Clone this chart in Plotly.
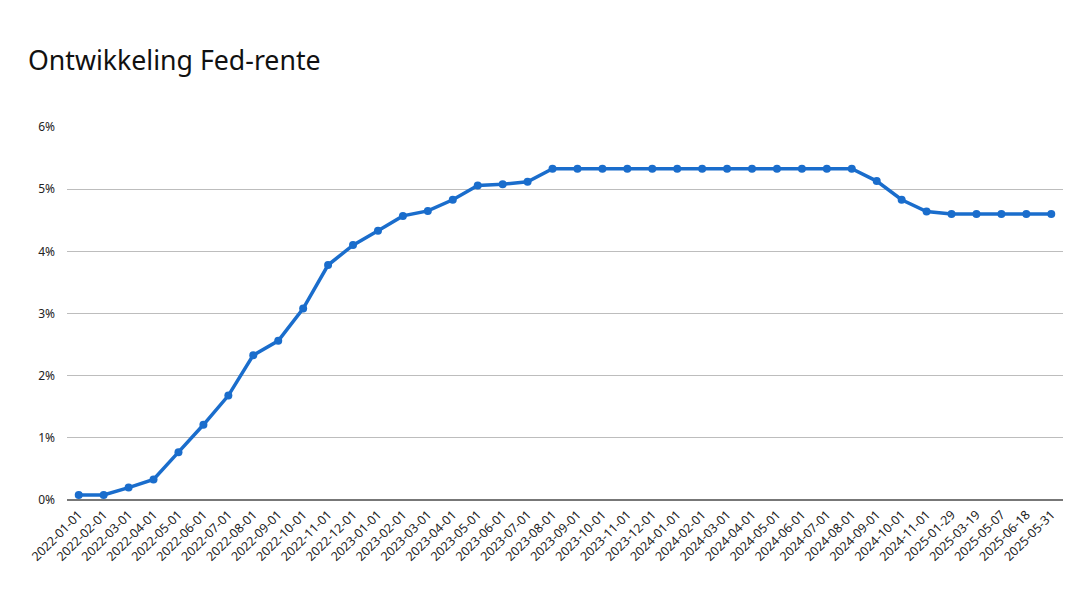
import plotly.graph_objects as go

# Datums (categorie-as, volgorde zoals in de bron)
dates = [
    "2022-01-01", "2022-02-01", "2022-03-01", "2022-04-01", "2022-05-01", "2022-06-01",
    "2022-07-01", "2022-08-01", "2022-09-01", "2022-10-01", "2022-11-01", "2022-12-01",
    "2023-01-01", "2023-02-01", "2023-03-01", "2023-04-01", "2023-05-01", "2023-06-01",
    "2023-07-01", "2023-08-01", "2023-09-01", "2023-10-01", "2023-11-01", "2023-12-01",
    "2024-01-01", "2024-02-01", "2024-03-01", "2024-04-01", "2024-05-01", "2024-06-01",
    "2024-07-01", "2024-08-01", "2024-09-01", "2024-10-01", "2024-11-01",
    "2025-01-29", "2025-03-19", "2025-05-07", "2025-06-18", "2025-05-31",
]

# Fed-rente in procenten
rate = [
    0.08, 0.08, 0.20, 0.33, 0.77, 1.21,
    1.68, 2.33, 2.56, 3.08, 3.78, 4.10,
    4.33, 4.57, 4.65, 4.83, 5.06, 5.08,
    5.12, 5.33, 5.33, 5.33, 5.33, 5.33,
    5.33, 5.33, 5.33, 5.33, 5.33, 5.33,
    5.33, 5.33, 5.13, 4.83, 4.64,
    4.60, 4.60, 4.60, 4.60, 4.60,
]

y_ticks = [0, 1, 2, 3, 4, 5, 6]
y_labels = [f"{t}%" for t in y_ticks]

fig = go.Figure()

fig.add_trace(go.Scatter(
    x=dates,
    y=rate,
    mode="lines+markers",
    line=dict(color="#1a6dcc", width=3.5),
    marker=dict(color="#1a6dcc", size=8),
    hovertemplate="%{x}: %{y:.2f}%<extra></extra>",
))

# de pagina heeft 8px body-marge, daarom alles 8px naar links/boven
fig.update_layout(
    width=1080,
    height=600,
    title=dict(
        text="Ontwikkeling Fed-rente",
        x=0.0185, xanchor="left",
        y=0.913, yanchor="middle",
        font=dict(size=26.7, family="Noto Sans", color="#111111"),
    ),
    font=dict(family="Noto Sans", size=12, color="#222222"),
    paper_bgcolor="white",
    plot_bgcolor="white",
    showlegend=False,
    margin=dict(l=59, r=25, t=119, b=108),
    xaxis=dict(
        type="category",
        range=[-0.47, len(dates) - 1 + 0.47],
        tickangle=-45,
        tickfont=dict(size=12.5, color="#222222"),
        showgrid=False,
        showline=False,
        ticks="",
        ticklabelstandoff=4,
    ),
    yaxis=dict(
        range=[0, 6],
        tickvals=y_ticks,
        ticktext=y_labels,
        tickfont=dict(size=12, color="#222222"),
        gridcolor="#bdbdbd",
        gridwidth=1.3,
        zeroline=True,
        zerolinecolor="#777777",
        zerolinewidth=1.5,
        ticks="",
        ticklabelstandoff=11,
    ),
)

fig.write_html("out.html")
